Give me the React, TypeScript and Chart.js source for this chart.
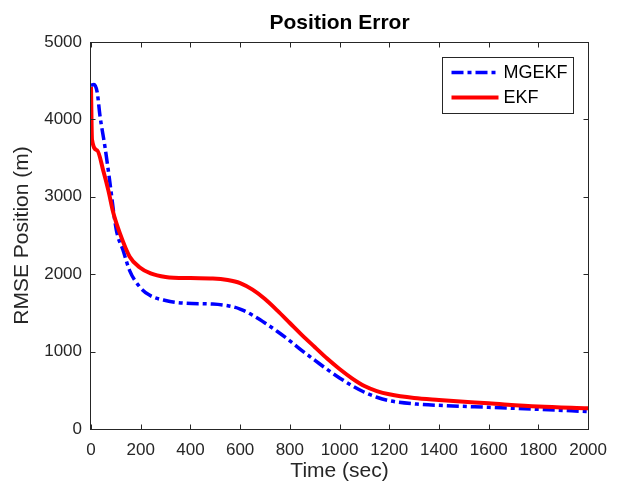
import React, { useEffect, useRef } from "react";
import { Chart, registerables } from "chart.js";

Chart.register(...registerables);

// ---- data ----
const ekfTime = [0, 4, 25, 50, 70, 90, 116, 155, 195, 240, 300, 400, 490, 550, 600, 650, 700, 750, 800, 850, 900, 950, 1000, 1050, 1100, 1150, 1200, 1300, 1400, 1600, 1800, 2000];
const ekfRmse = [4420, 3740, 3600, 3330, 3080, 2790, 2530, 2230, 2090, 2010, 1965, 1950, 1945, 1925, 1885, 1800, 1680, 1530, 1370, 1210, 1060, 910, 775, 655, 555, 490, 448, 400, 375, 332, 290, 268];

const mgekfTime = [0, 12, 25, 36, 56, 73, 102, 129, 155, 195, 235, 300, 380, 490, 555, 600, 650, 700, 750, 800, 850, 900, 950, 1000, 1050, 1100, 1150, 1200, 1310, 1430, 1600, 1800, 2000];
const mgekfRmse = [4440, 4450, 4350, 4050, 3650, 3260, 2570, 2310, 2050, 1840, 1730, 1660, 1625, 1615, 1590, 1550, 1470, 1370, 1260, 1140, 1010, 890, 770, 660, 560, 475, 410, 365, 322, 302, 280, 254, 225];

const xTicks = [0, 200, 400, 600, 800, 1000, 1200, 1400, 1600, 1800, 2000];
const yTicks = [0, 1000, 2000, 3000, 4000, 5000];

const seriesNames = ["MGEKF", "EKF"];
const titleText = "Position Error";
const xLabel = "Time (sec)";
const yLabel = "RMSE Position (m)";

const FONT = "'Liberation Sans', Arial, Helvetica, sans-serif";
const AX = "#262626";
const BLUE = "#0000FF";
const RED = "#FF0000";
const BLUE_DASH = [12, 4, 4, 4];

const decor = {
  id: "decor",
  afterDatasetsDraw(chart: any) {
    const { ctx, chartArea: a, scales } = chart;
    const xs = scales.x;
    const ys = scales.y;
    ctx.save();
    // box
    ctx.strokeStyle = AX;
    ctx.lineWidth = 1;
    ctx.setLineDash([]);
    const L = Math.round(a.left) - 0.5;
    const T = Math.round(a.top) + 0.5;
    const R = Math.round(a.right) + 0.5;
    const B = Math.round(a.bottom) + 0.5;
    ctx.strokeRect(L, T, R - L, B - T);
    // inward ticks
    const tl = 5;
    ctx.beginPath();
    xTicks.forEach((v) => {
      const px = Math.round(xs.getPixelForValue(v)) + 0.5;
      ctx.moveTo(px, B);
      ctx.lineTo(px, B - tl);
      ctx.moveTo(px, T);
      ctx.lineTo(px, T + tl);
    });
    yTicks.forEach((v) => {
      const py = Math.round(ys.getPixelForValue(v)) + 0.5;
      ctx.moveTo(L, py);
      ctx.lineTo(L + tl, py);
      ctx.moveTo(R, py);
      ctx.lineTo(R - tl, py);
    });
    ctx.stroke();

    const cx = (a.left + a.right) / 2;
    const cy = (a.top + a.bottom) / 2;
    // title
    ctx.fillStyle = "#000";
    ctx.textAlign = "center";
    ctx.textBaseline = "middle";
    ctx.font = `bold 21px ${FONT}`;
    ctx.fillText(titleText, cx, 23);
    // axis labels
    ctx.fillStyle = AX;
    ctx.font = `21px ${FONT}`;
    ctx.fillText(xLabel, cx, 471);
    ctx.save();
    ctx.translate(22, cy);
    ctx.rotate(-Math.PI / 2);
    ctx.fillText(yLabel, 0, 0);
    ctx.restore();

    // legend
    const bw = 131;
    const bh = 56;
    const bx = Math.round(a.right) - 15 - bw + 0.5;
    const by = Math.round(a.top) + 15 + 0.5;
    ctx.fillStyle = "#fff";
    ctx.fillRect(bx, by, bw, bh);
    ctx.strokeStyle = AX;
    ctx.lineWidth = 1;
    ctx.strokeRect(bx, by, bw, bh);
    const rows = [
      { name: seriesNames[0], color: BLUE, dash: BLUE_DASH, w: 3.5 },
      { name: seriesNames[1], color: RED, dash: [] as number[], w: 4 },
    ];
    rows.forEach((r, i) => {
      const y = by + 15 + i * 25;
      ctx.beginPath();
      ctx.strokeStyle = r.color;
      ctx.lineWidth = r.w;
      ctx.setLineDash(r.dash);
      ctx.moveTo(bx + 9, y);
      ctx.lineTo(bx + 56, y);
      ctx.stroke();
      ctx.setLineDash([]);
      ctx.fillStyle = "#000";
      ctx.textAlign = "left";
      ctx.textBaseline = "middle";
      ctx.font = `18px ${FONT}`;
      ctx.fillText(r.name, bx + 61, y + 1);
    });
    ctx.restore();
  },
};

export default function App() {
  const ref = useRef<HTMLCanvasElement | null>(null);

  useEffect(() => {
    if (!ref.current) return;
    const chart = new Chart(ref.current, {
      type: "line",
      data: {
        datasets: [
          {
            label: seriesNames[0],
            data: mgekfTime.map((t, i) => ({ x: t, y: mgekfRmse[i] })),
            borderColor: BLUE,
            borderWidth: 3.5,
            borderDash: BLUE_DASH,
            pointRadius: 0,
            cubicInterpolationMode: "monotone",
            fill: false,
            order: 1,
          },
          {
            label: seriesNames[1],
            data: ekfTime.map((t, i) => ({ x: t, y: ekfRmse[i] })),
            borderColor: RED,
            borderWidth: 4,
            pointRadius: 0,
            cubicInterpolationMode: "monotone",
            fill: false,
            order: 0,
          },
        ],
      },
      options: {
        animation: false,
        responsive: false,
        devicePixelRatio: 1,
        layout: { padding: { left: 0, right: 25, top: 42, bottom: 0 } },
        plugins: {
          legend: { display: false },
          title: { display: false },
          tooltip: { enabled: false },
        },
        scales: {
          x: {
            type: "linear",
            min: 0,
            max: 2000,
            grid: { display: false, drawTicks: false },
            border: { display: false },
            afterBuildTicks: (s: any) => {
              s.ticks = xTicks.map((v) => ({ value: v }));
            },
            afterFit: (s: any) => {
              s.height = 63;
            },
            ticks: {
              padding: 11,
              maxRotation: 0,
              autoSkip: false,
              color: AX,
              font: { family: FONT, size: 17 },
              callback: (v: any) => String(v),
            },
          },
          y: {
            type: "linear",
            min: 0,
            max: 5000,
            grid: { display: false, drawTicks: false },
            border: { display: false },
            afterBuildTicks: (s: any) => {
              s.ticks = yTicks.map((v) => ({ value: v }));
            },
            afterFit: (s: any) => {
              s.width = 91;
            },
            ticks: {
              padding: 9,
              autoSkip: false,
              color: AX,
              font: { family: FONT, size: 17 },
              callback: (v: any) => String(v),
            },
          },
        },
      },
      plugins: [decor],
    } as any);
    return () => chart.destroy();
  }, []);

  return (
    <div style={{ position: "fixed", left: 0, top: 0, width: 618, height: 492, background: "#fff" }}>
      <canvas ref={ref} width={618} height={492} style={{ display: "block", width: 618, height: 492 }} />
    </div>
  );
}
